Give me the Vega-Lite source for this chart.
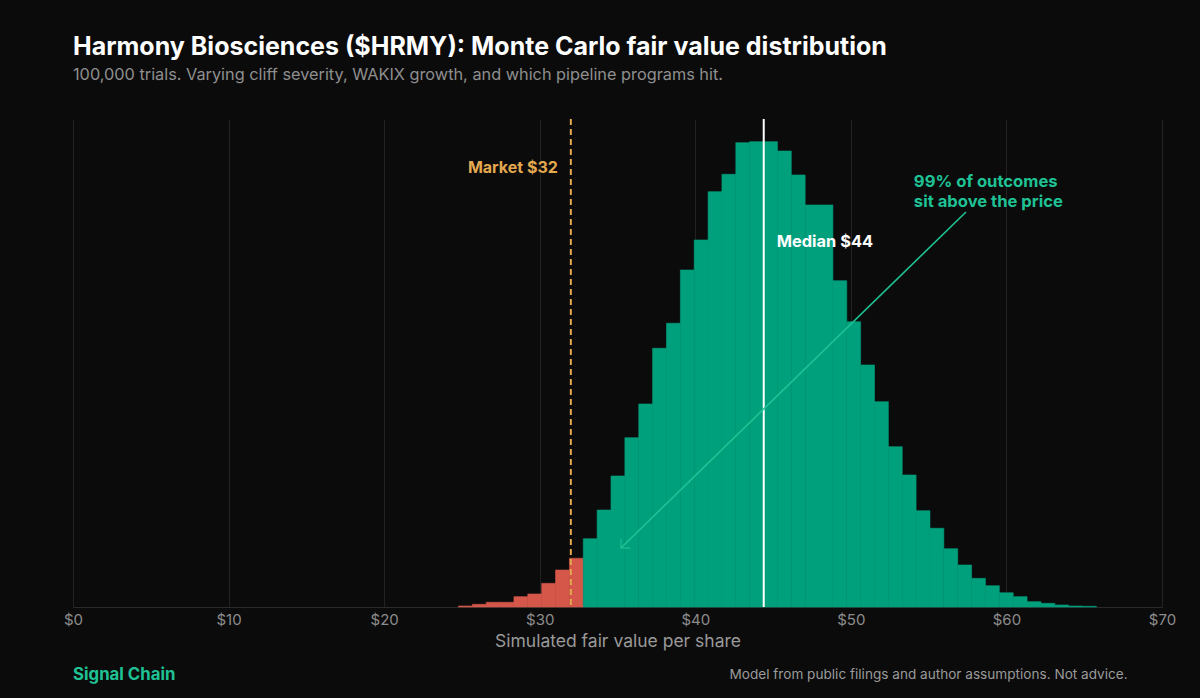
{
  "$schema": "https://vega.github.io/schema/vega-lite/v6.json",
  "description": "Monte Carlo fair value distribution for Harmony Biosciences, 100,000 trials.",
  "width": 1089,
  "height": 488,
  "autosize": "none",
  "padding": {"left": 73, "top": 119, "right": 38, "bottom": 91},
  "background": "#0b0b0b",
  "title": {
    "text": "Harmony Biosciences ($HRMY): Monte Carlo fair value distribution",
    "subtitle": "100,000 trials. Varying cliff severity, WAKIX growth, and which pipeline programs hit.",
    "anchor": "start",
    "frame": "group",
    "color": "#ffffff",
    "font": "Inter",
    "fontSize": 25,
    "fontWeight": "bold",
    "subtitleFont": "Inter",
    "subtitleColor": "#8f8f8f",
    "subtitleFontSize": 16.3,
    "subtitlePadding": 7,
    "offset": 35
  },
  "datasets": {
    "bins": [
      {"lo": 24.777, "hi": 25.669, "n": 13, "side": "below"},
      {"lo": 25.669, "hi": 26.560, "n": 35, "side": "below"},
      {"lo": 26.560, "hi": 27.452, "n": 61, "side": "below"},
      {"lo": 27.452, "hi": 28.343, "n": 61, "side": "below"},
      {"lo": 28.343, "hi": 29.234, "n": 134, "side": "below"},
      {"lo": 29.234, "hi": 30.126, "n": 169, "side": "below"},
      {"lo": 30.126, "hi": 31.017, "n": 307, "side": "below"},
      {"lo": 31.017, "hi": 31.909, "n": 480, "side": "below"},
      {"lo": 31.909, "hi": 32.800, "n": 632, "side": "below"},
      {"lo": 32.800, "hi": 33.691, "n": 886, "side": "above"},
      {"lo": 33.691, "hi": 34.583, "n": 1258, "side": "above"},
      {"lo": 34.583, "hi": 35.474, "n": 1699, "side": "above"},
      {"lo": 35.474, "hi": 36.366, "n": 2196, "side": "above"},
      {"lo": 36.366, "hi": 37.257, "n": 2633, "side": "above"},
      {"lo": 37.257, "hi": 38.148, "n": 3355, "side": "above"},
      {"lo": 38.148, "hi": 39.040, "n": 3680, "side": "above"},
      {"lo": 39.040, "hi": 39.931, "n": 4371, "side": "above"},
      {"lo": 39.931, "hi": 40.823, "n": 4760, "side": "above"},
      {"lo": 40.823, "hi": 41.714, "n": 5387, "side": "above"},
      {"lo": 41.714, "hi": 42.606, "n": 5612, "side": "above"},
      {"lo": 42.606, "hi": 43.497, "n": 6022, "side": "above"},
      {"lo": 43.497, "hi": 44.388, "n": 6035, "side": "above"},
      {"lo": 44.388, "hi": 45.280, "n": 6035, "side": "above"},
      {"lo": 45.280, "hi": 46.171, "n": 5914, "side": "above"},
      {"lo": 46.171, "hi": 47.063, "n": 5603, "side": "above"},
      {"lo": 47.063, "hi": 47.954, "n": 5214, "side": "above"},
      {"lo": 47.954, "hi": 48.846, "n": 5214, "side": "above"},
      {"lo": 48.846, "hi": 49.737, "n": 4232, "side": "above"},
      {"lo": 49.737, "hi": 50.628, "n": 3700, "side": "above"},
      {"lo": 50.628, "hi": 51.520, "n": 3139, "side": "above"},
      {"lo": 51.520, "hi": 52.411, "n": 2663, "side": "above"},
      {"lo": 52.411, "hi": 53.303, "n": 2079, "side": "above"},
      {"lo": 53.303, "hi": 54.194, "n": 1712, "side": "above"},
      {"lo": 54.194, "hi": 55.086, "n": 1249, "side": "above"},
      {"lo": 55.086, "hi": 55.977, "n": 1021, "side": "above"},
      {"lo": 55.977, "hi": 56.868, "n": 756, "side": "above"},
      {"lo": 56.868, "hi": 57.760, "n": 545, "side": "above"},
      {"lo": 57.760, "hi": 58.651, "n": 372, "side": "above"},
      {"lo": 58.651, "hi": 59.543, "n": 276, "side": "above"},
      {"lo": 59.543, "hi": 60.434, "n": 185, "side": "above"},
      {"lo": 60.434, "hi": 61.326, "n": 134, "side": "above"},
      {"lo": 61.326, "hi": 62.217, "n": 69, "side": "above"},
      {"lo": 62.217, "hi": 63.108, "n": 48, "side": "above"},
      {"lo": 63.108, "hi": 64.000, "n": 26, "side": "above"},
      {"lo": 64.000, "hi": 64.891, "n": 13, "side": "above"},
      {"lo": 64.891, "hi": 65.783, "n": 9, "side": "above"}
    ]
  },
  "layer": [
    {
      "data": {"name": "bins"},
      "mark": {"type": "rect", "strokeWidth": 0.6},
      "encoding": {
        "x": {
          "field": "lo",
          "type": "quantitative",
          "scale": {"domain": [0, 70], "nice": false, "zero": false},
          "axis": {
            "values": [0, 10, 20, 30, 40, 50, 60, 70],
            "labelExpr": "'$' + datum.value",
            "labelFlush": false,
            "title": "Simulated fair value per share"
          }
        },
        "x2": {"field": "hi"},
        "y": {
          "field": "n",
          "type": "quantitative",
          "scale": {"domain": [0, 6329], "nice": false},
          "axis": null
        },
        "y2": {"datum": 0},
        "color": {
          "field": "side",
          "type": "nominal",
          "scale": {"domain": ["below", "above"], "range": ["#d4574a", "#00a07c"]},
          "legend": null
        },
        "stroke": {
          "field": "side",
          "type": "nominal",
          "scale": {"domain": ["below", "above"], "range": ["#d4574a", "#00a07c"]},
          "legend": null
        }
      }
    },
    {
      "data": {"values": [{"price": 32}]},
      "mark": {"type": "rule", "color": "#e3a94f", "strokeWidth": 2, "strokeDash": [6, 4]},
      "encoding": {"x": {"field": "price", "type": "quantitative"}}
    },
    {
      "data": {"values": [{"median": 44.4}]},
      "mark": {"type": "rule", "color": "#ffffff", "strokeWidth": 2},
      "encoding": {"x": {"field": "median", "type": "quantitative"}}
    },
    {
      "data": {"values": [{"x": 57.4, "y": 5123, "x2": 35.22, "y2": 765}]},
      "mark": {"type": "rule", "color": "#1fc295", "strokeWidth": 1.6},
      "encoding": {
        "x": {"field": "x", "type": "quantitative"},
        "y": {"field": "y", "type": "quantitative"},
        "x2": {"field": "x2"},
        "y2": {"field": "y2"}
      }
    },
    {
      "data": {"values": [{"x": 35.22, "y": 765, "angle": 135.8}]},
      "mark": {
        "type": "point",
        "shape": "M-1,-1L0,0L-1,1",
        "filled": false,
        "size": 170,
        "stroke": "#1fc295",
        "strokeWidth": 1.6
      },
      "encoding": {
        "x": {"field": "x", "type": "quantitative"},
        "y": {"field": "y", "type": "quantitative"},
        "angle": {"field": "angle", "type": "quantitative", "scale": null}
      }
    },
    {
      "data": {
        "values": [
          {"x": 32, "y": 5690, "label": "Market $32"}
        ]
      },
      "mark": {"type": "text", "align": "right", "baseline": "middle", "dx": -13, "font": "Inter", "fontSize": 16, "fontWeight": "bold", "color": "#e3a94f"},
      "encoding": {
        "x": {"field": "x", "type": "quantitative"},
        "y": {"field": "y", "type": "quantitative"},
        "text": {"field": "label"}
      }
    },
    {
      "data": {
        "values": [
          {"x": 44.4, "y": 4734, "label": "Median $44"}
        ]
      },
      "mark": {"type": "text", "align": "left", "baseline": "middle", "dx": 13, "font": "Inter", "fontSize": 16.4, "fontWeight": "bold", "color": "#ffffff"},
      "encoding": {
        "x": {"field": "x", "type": "quantitative"},
        "y": {"field": "y", "type": "quantitative"},
        "text": {"field": "label"}
      }
    },
    {
      "data": {
        "values": [
          {"x": 54.05, "y": 5512, "label": "99% of outcomes\nsit above the price"}
        ]
      },
      "mark": {"type": "text", "align": "left", "baseline": "middle", "lineBreak": "\n", "lineHeight": 20, "font": "Inter", "fontSize": 16.6, "fontWeight": "bold", "color": "#1fc295"},
      "encoding": {
        "x": {"field": "x", "type": "quantitative"},
        "y": {"field": "y", "type": "quantitative"},
        "text": {"field": "label"}
      }
    },
    {
      "data": {
        "values": [
          {"x": 0, "y": -882, "label": "Signal Chain"}
        ]
      },
      "mark": {"type": "text", "align": "left", "baseline": "middle", "font": "Inter", "fontSize": 16.8, "fontWeight": "bold", "color": "#1fc295"},
      "encoding": {
        "x": {"field": "x", "type": "quantitative"},
        "y": {"field": "y", "type": "quantitative"},
        "text": {"field": "label"}
      }
    },
    {
      "data": {
        "values": [
          {"x": 67.79, "y": -882, "label": "Model from public filings and author assumptions. Not advice."}
        ]
      },
      "mark": {"type": "text", "align": "right", "baseline": "middle", "font": "Inter", "fontSize": 13.6, "color": "#9a9a9a"},
      "encoding": {
        "x": {"field": "x", "type": "quantitative"},
        "y": {"field": "y", "type": "quantitative"},
        "text": {"field": "label"}
      }
    }
  ],
  "config": {
    "view": {"stroke": null},
    "font": "Inter",
    "axis": {
      "grid": true,
      "gridColor": "#222222",
      "gridWidth": 1,
      "domain": true,
      "domainColor": "#2a2a2a",
      "ticks": false,
      "labelColor": "#8c8c8c",
      "labelFont": "Inter",
      "labelFontSize": 15,
      "labelPadding": 5,
      "titleColor": "#9a9a9a",
      "titleFont": "Inter",
      "titleFontSize": 17.5,
      "titleFontWeight": "normal",
      "titlePadding": 5
    }
  }
}
